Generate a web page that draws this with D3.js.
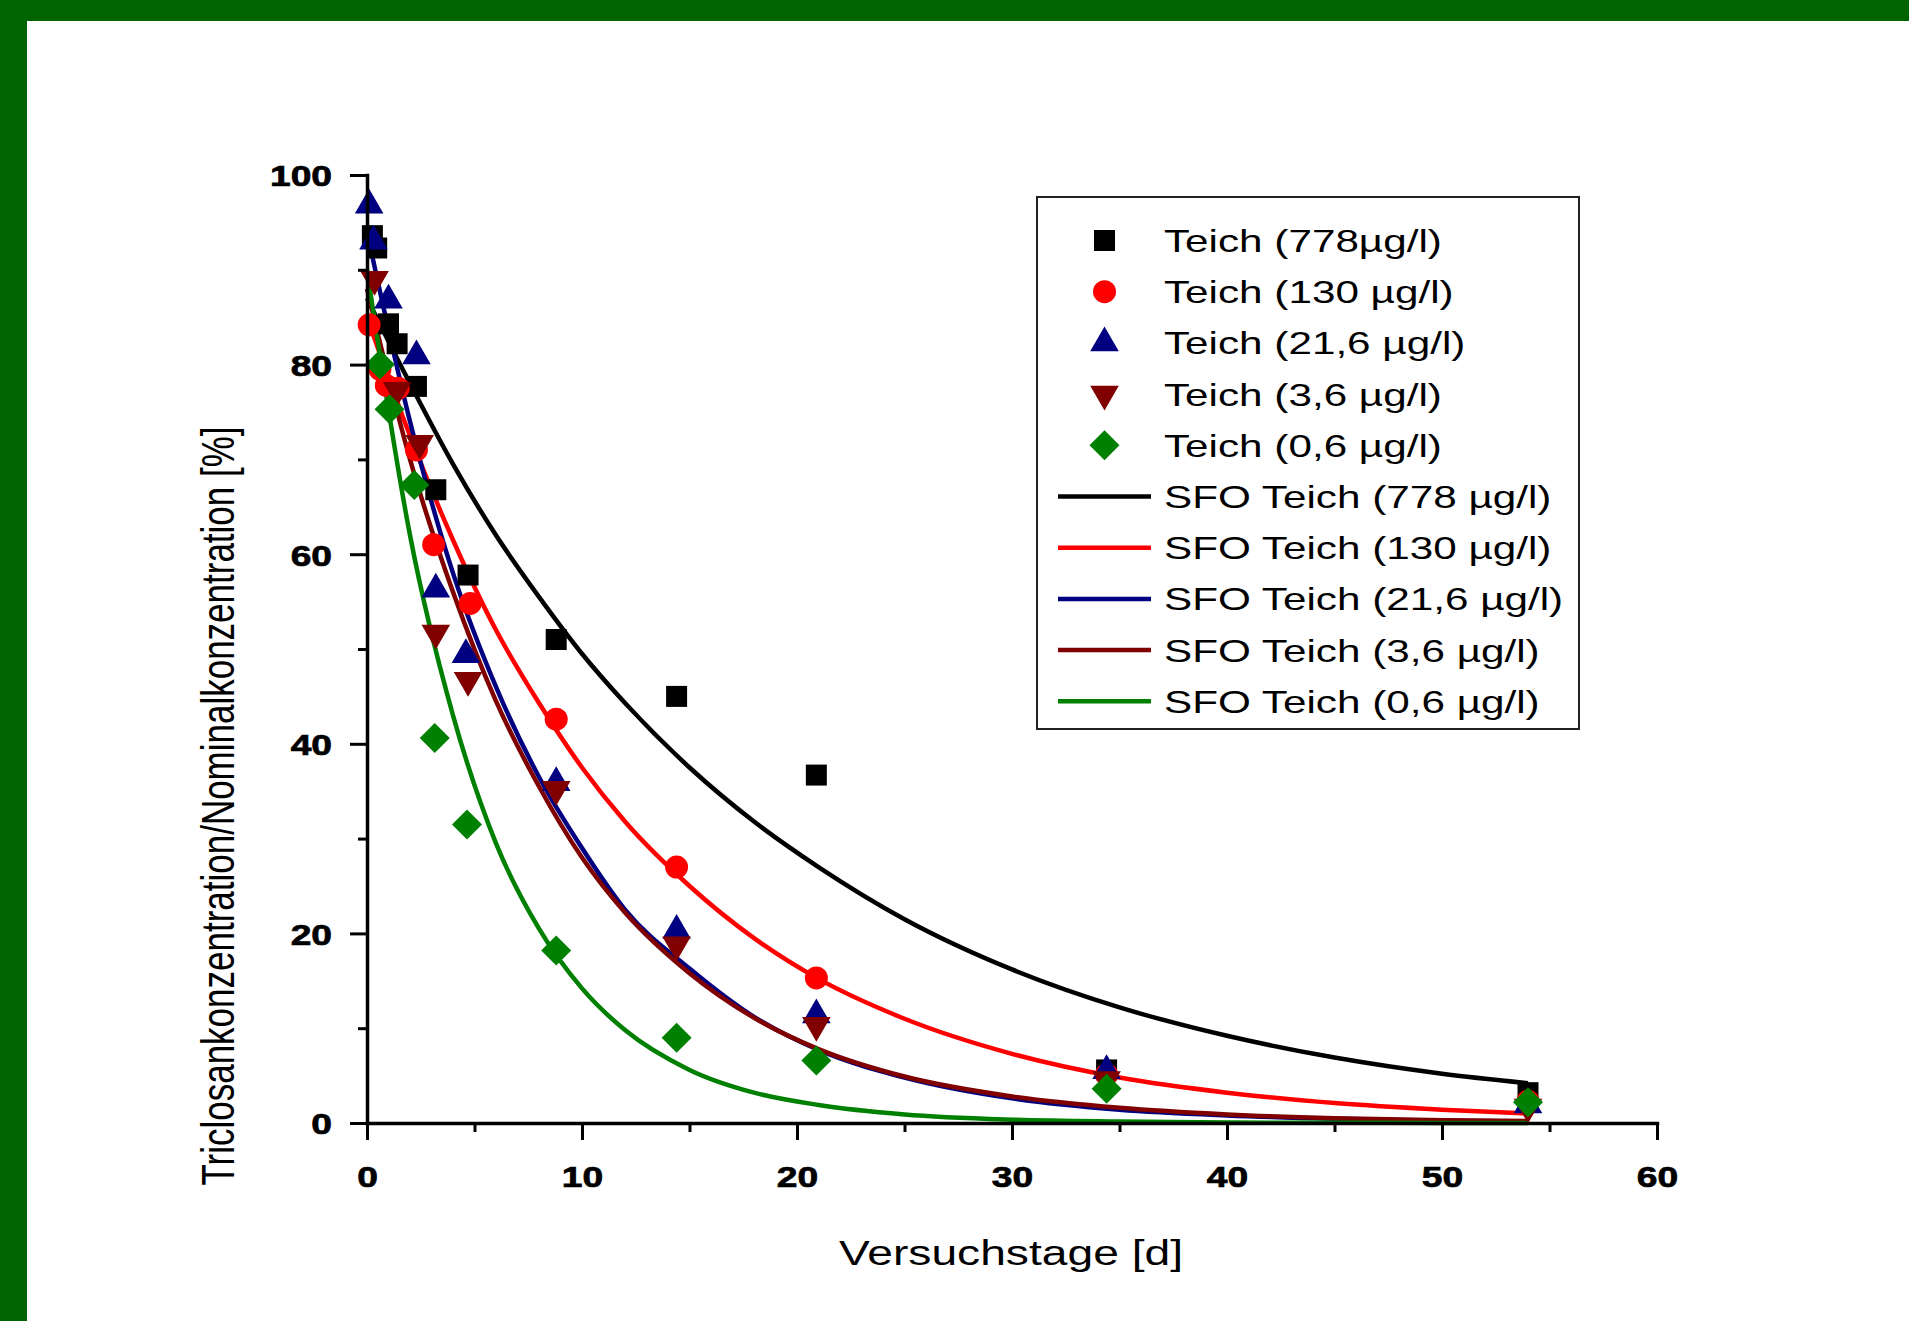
<!DOCTYPE html>
<html lang="de">
<head>
<meta charset="utf-8">
<title>Triclosan Teich SFO</title>
<script src="https://cdnjs.cloudflare.com/ajax/libs/d3/7.8.5/d3.min.js"></script>
<style>
  body { margin: 0; background: #fff; }
  svg { display: block; font-family: "Liberation Sans", Arial, sans-serif; }
</style>
</head>
<body>
<div id="chart"></div>
<script>
const pointNames = ['Teich (778µg/l)', 'Teich (130 µg/l)', 'Teich (21,6 µg/l)', 'Teich (3,6 µg/l)', 'Teich (0,6 µg/l)'];
const fitNames = ['SFO Teich (778 µg/l)', 'SFO Teich (130 µg/l)', 'SFO Teich (21,6 µg/l)', 'SFO Teich (3,6 µg/l)', 'SFO Teich (0,6 µg/l)'];

const days778 = [0.25, 0.45, 1.0, 1.4, 2.3, 3.2, 4.7, 8.8, 14.4, 20.9, 34.4, 54.0];
const conc778 = [93.6, 92.3, 84.3, 82.2, 77.7, 66.8, 57.8, 51.0, 45.0, 36.7, 5.6, 3.2];
const days130 = [0.1, 0.6, 0.9, 1.45, 2.3, 3.1, 4.8, 8.8, 14.4, 20.9, 34.4, 54.0];
const conc130 = [84.2, 79.5, 77.8, 77.5, 71.0, 61.0, 54.8, 42.6, 27.0, 15.3, 5.1, 2.3];
const days21 = [0.1, 0.3, 1.0, 2.3, 3.2, 4.6, 8.8, 14.4, 20.9, 34.4, 54.0];
const conc21 = [96.8, 93.0, 86.8, 80.9, 56.3, 49.4, 35.9, 20.3, 11.4, 5.5, 1.9];
const days36 = [0.35, 1.4, 2.45, 3.2, 4.7, 8.8, 14.4, 20.9, 34.4, 54.0];
const conc36 = [89.0, 77.3, 71.7, 51.7, 46.7, 35.2, 18.8, 10.3, 4.6, 1.7];
const days06 = [0.6, 1.05, 2.2, 3.15, 4.65, 8.8, 14.4, 20.9, 34.4, 54.0];
const conc06 = [80.0, 75.3, 67.3, 40.6, 31.5, 18.2, 9.0, 6.6, 3.6, 2.2];

// SFO fit curves, read at these days
const fitDays = [0, 2, 4, 6, 8, 10, 12, 15, 18, 21, 25, 30, 35, 40, 45, 50, 54];
const fit778 = [87, 78, 69.5, 62, 55.5, 49.5, 44.3, 37.5, 31.8, 27, 21.5, 16.2, 12.2, 9.2, 6.9, 5.2, 4.2];
const fit130 = [85, 72.5, 61.5, 52, 44.3, 37.5, 31.8, 25, 19.5, 15.2, 11, 7.3, 4.8, 3.2, 2.1, 1.4, 1.0];
const fit21 = [94, 74, 58, 46, 36.5, 29, 22.5, 16.3, 11.2, 7.7, 4.8, 2.6, 1.4, 0.8, 0.45, 0.25, 0.15];
const fit36 = [88, 70, 56, 44.5, 35.5, 28, 22.2, 15.8, 11.1, 7.8, 4.9, 2.8, 1.6, 0.9, 0.5, 0.3, 0.2];
const fit06 = [90, 62, 43, 29.5, 20.5, 14.2, 9.8, 5.6, 3.2, 1.9, 0.9, 0.35, 0.15, 0.05, 0.02, 0.01, 0];

const xTicks = [0, 10, 20, 30, 40, 50, 60];
const xMinor = [5, 15, 25, 35, 45, 55];
const yTicks = [0, 20, 40, 60, 80, 100];
const yMinor = [10, 30, 50, 70, 90];

const xTitle = 'Versuchstage [d]';
const yTitle = 'Triclosankonzentration/Nominalkonzentration [%]';

const colors = ['#000000', '#ff0000', '#000080', '#800000', '#008000'];
const shapes = ['square', 'circle', 'up', 'down', 'diamond'];

const w = 1909, h = 1321;
const stretch = 1.32;     // the text in the original is drawn wide
const tickStretch = 1.24;

const points = [[days778, conc778], [days130, conc130], [days21, conc21], [days36, conc36], [days06, conc06]];
const fits = [fit778, fit130, fit21, fit36, fit06];

const svg = d3.select('#chart').append('svg').attr('width', w).attr('height', h);

// dark green frame on top and left
svg.append('rect').attr('x', 0).attr('y', 0).attr('width', w).attr('height', 21).attr('fill', '#006400');
svg.append('rect').attr('x', 0).attr('y', 0).attr('width', 27).attr('height', h).attr('fill', '#006400');

const x = d3.scaleLinear().domain([0, 60]).range([367, 1657]);
const y = d3.scaleLinear().domain([0, 100]).range([1123, 175]);

function markerPath(shape) {
  if (shape === 'square') return d3.symbol(d3.symbolSquare, 441)();
  if (shape === 'circle') return d3.symbol(d3.symbolCircle, 415)();
  if (shape === 'diamond') return d3.symbol(d3.symbolSquare, 450)();
  return d3.symbol(d3.symbolTriangle, 354)();
}
function markerRot(shape) {
  if (shape === 'diamond') return ' rotate(45)';
  if (shape === 'down') return ' rotate(180)';
  return '';
}

// fit curves
const line = d3.line()
  .x(d => x(d[0]))
  .y(d => y(d[1]))
  .curve(d3.curveMonotoneX);

fits.forEach((vals, i) => {
  svg.append('path')
    .datum(fitDays.map((d, j) => [d, vals[j]]))
    .attr('d', line)
    .attr('fill', 'none')
    .attr('stroke', colors[i])
    .attr('stroke-width', 4.5);
});

// measured points
points.forEach((s, i) => {
  svg.append('g').selectAll('path')
    .data(s[0].map((d, j) => [d, s[1][j]]))
    .enter()
    .append('path')
    .attr('d', markerPath(shapes[i]))
    .attr('transform', d => 'translate(' + x(d[0]) + ',' + y(d[1]) + ')' + markerRot(shapes[i]))
    .attr('fill', colors[i]);
});

// axes
const gx = svg.append('g')
  .attr('transform', 'translate(0,' + y(0) + ')')
  .call(d3.axisBottom(x).tickValues(xTicks).tickSize(17).tickSizeOuter(0));
svg.append('g')
  .attr('transform', 'translate(0,' + y(0) + ')')
  .call(d3.axisBottom(x).tickValues(xMinor).tickSize(9).tickFormat(''))
  .call(g => g.select('.domain').remove());

const gy = svg.append('g')
  .attr('transform', 'translate(' + x(0) + ',0)')
  .call(d3.axisLeft(y).tickValues(yTicks).tickSize(17).tickSizeOuter(0));
svg.append('g')
  .attr('transform', 'translate(' + x(0) + ',0)')
  .call(d3.axisLeft(y).tickValues(yMinor).tickSize(9).tickFormat(''))
  .call(g => g.select('.domain').remove());

svg.selectAll('.domain').attr('stroke', '#000').attr('stroke-width', 3.5).attr('stroke-linecap', 'square');
svg.selectAll('.tick line').attr('stroke', '#000').attr('stroke-width', 3);

gx.selectAll('.tick text')
  .attr('y', 64).attr('dy', null)
  .attr('transform', 'scale(' + tickStretch + ',1)')
  .attr('font-size', 30).attr('font-weight', 'bold')
  .attr('font-family', '"Liberation Sans", Arial, sans-serif')
  .attr('fill', '#000').attr('stroke', '#000').attr('stroke-width', 0.7);

gy.selectAll('.tick text')
  .attr('x', -35 / tickStretch).attr('dy', '0.36em')
  .attr('transform', 'scale(' + tickStretch + ',1)')
  .attr('font-size', 30).attr('font-weight', 'bold')
  .attr('font-family', '"Liberation Sans", Arial, sans-serif')
  .attr('fill', '#000').attr('stroke', '#000').attr('stroke-width', 0.7);

// axis titles
svg.append('text')
  .attr('transform', 'translate(1011,1265) scale(' + stretch + ',1)')
  .attr('text-anchor', 'middle')
  .attr('font-size', 35)
  .text(xTitle);

svg.append('text')
  .attr('transform', 'translate(234,806) scale(' + stretch + ',1) rotate(-90)')
  .attr('text-anchor', 'middle')
  .attr('font-size', 35)
  .text(yTitle);

// legend
const legend = svg.append('g');
legend.append('rect')
  .attr('x', 1037).attr('y', 197)
  .attr('width', 542).attr('height', 532)
  .attr('fill', '#fff').attr('stroke', '#222').attr('stroke-width', 2);

const rowY = i => 240.5 + i * 51.2;

pointNames.forEach((name, i) => {
  legend.append('path')
    .attr('d', markerPath(shapes[i]))
    .attr('transform', 'translate(1104.5,' + rowY(i) + ')' + markerRot(shapes[i]))
    .attr('fill', colors[i]);
  legend.append('text')
    .attr('transform', 'translate(1164,' + (rowY(i) + 11.5) + ') scale(' + stretch + ',1)')
    .attr('font-size', 32)
    .text(name);
});

fitNames.forEach((name, i) => {
  const yy = rowY(i + 5);
  legend.append('line')
    .attr('x1', 1058).attr('x2', 1151)
    .attr('y1', yy).attr('y2', yy)
    .attr('stroke', colors[i]).attr('stroke-width', 4.5);
  legend.append('text')
    .attr('transform', 'translate(1164,' + (yy + 11.5) + ') scale(' + stretch + ',1)')
    .attr('font-size', 32)
    .text(name);
});
</script>
</body>
</html>
